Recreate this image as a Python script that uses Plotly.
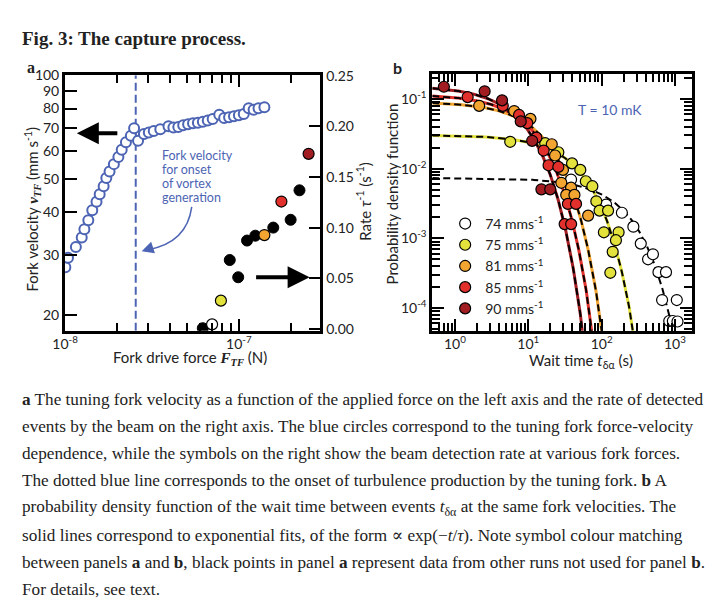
import numpy as np
import plotly.graph_objects as go

# ---------------- data: panel a ----------------
force_fork = [1.004e-8, 1.04e-8, 1.154e-8, 1.247e-8, 1.292e-8, 1.361e-8, 1.434e-8, 1.517e-8,
              1.582e-8, 1.667e-8, 1.727e-8, 1.803e-8, 1.909e-8, 2.027e-8, 2.118e-8, 2.240e-8,
              2.391e-8, 2.496e-8, 2.63e-8, 2.843e-8, 3.033e-8, 3.237e-8, 3.532e-8, 3.935e-8,
              4.2e-8, 4.481e-8, 4.783e-8, 5.104e-8, 5.446e-8, 5.811e-8, 6.204e-8, 6.622e-8,
              7.067e-8, 7.709e-8, 8.227e-8, 8.781e-8, 9.371e-8, 1.0e-7, 1.067e-7, 1.139e-7,
              1.215e-7, 1.297e-7, 1.402e-7]
vel_fork = [27.6, 29.4, 31.6, 33.7, 35.6, 37.8, 40.4, 42.8, 45.0, 47.5, 50.2, 52.4, 55.1, 57.8,
            60.7, 63.8, 66.7, 70.1, 64.5, 67.4, 68.1, 68.8, 69.6, 71.1, 70.4, 70.7, 71.5, 72.0,
            72.5, 72.7, 73.2, 73.9, 74.6, 76.8, 75.1, 75.5, 76.0, 76.5, 77.1, 80.2, 79.4, 80.2, 80.7]
force_onset = 2.55e-8
vel_axis_range = [18.0, 100.0]

force_rate_black = [6.2e-8, 8.862e-8, 9.91e-8, 1.114e-7, 1.243e-7, 1.577e-7, 1.985e-7, 2.232e-7]
rate_black = [0.0007, 0.068, 0.051, 0.0872, 0.092, 0.100, 0.1077, 0.1368]
force_rate_col = [7.012e-8, 7.881e-8, 1.402e-7, 1.756e-7, 2.518e-7]
rate_col = [0.0045, 0.0279, 0.0926, 0.1257, 0.1728]

# ---------------- data: panel b ----------------
series_names = ["74 mms<sup>-1</sup>", "75 mms<sup>-1</sup>", "81 mms<sup>-1</sup>",
                "85 mms<sup>-1</sup>", "90 mms<sup>-1</sup>"]
series_colors = ["#ffffff", "#e3e13c", "#f3a531", "#e2302c", "#a11d22"]

t74 = [38.3, 115, 189, 271, 342, 430, 501, 596, 755, 668, 1060, 836, 937, 1083]
p74 = [6.97e-3, 3.05e-3, 2.33e-3, 1.47e-3, 8.4e-4, 5.0e-4, 5.9e-4, 3.27e-4, 3.27e-4, 1.3e-4,
       1.3e-4, 6.5e-5, 6.5e-5, 6.4e-5]
t75 = [5.67, 17.0, 25.7, 39.5, 51.2, 60.9, 74.8, 84.7, 93.7, 122.5, 107.4, 170.5, 156.8, 141.6, 131.5]
p75 = [0.0243, 0.0232, 0.0172, 0.0119, 0.0096, 0.0066, 0.0056, 0.0034, 0.0025, 0.0025, 0.00122,
       0.00122, 0.00094, 0.00064, 0.00032]
t81 = [2.14, 6.42, 10.7, 20.9, 23.2, 29.7, 28.2, 38.3, 32.9, 42.6, 65.5]
p81 = [0.0798, 0.0671, 0.0519, 0.0224, 0.01545, 0.0096, 0.00627, 0.00533, 0.0042, 0.0042, 0.00212]
t85 = [1.49, 4.49, 7.48, 9.69, 12.9, 16.2, 18.9, 25.7, 34.7, 44.8, 31.3, 38.4]
p85 = [0.1066, 0.0798, 0.059, 0.0451, 0.0279, 0.0182, 0.0112, 0.0106, 0.00312, 0.00312, 0.0016, 0.0016]
t90 = [0.706, 2.54, 4.39, 7.89, 11.3, 15.1, 19.9]
p90 = [0.150, 0.129, 0.0956, 0.0477, 0.0251, 0.00505, 0.00505]

fit_amp = [7.36e-3, 0.0304, 0.0908, 0.116, 0.153]
fit_tau = [184.0, 41.7, 13.4, 9.5, 6.8]

series_t = [t74, t75, t81, t85, t90]
series_p = [p74, p75, p81, p85, p90]

xa_tickvals = [1e-8, 1e-7]
xa_ticktext = ["10<sup>-8</sup>", "10<sup>-7</sup>"]
ya_tickvals = [20, 30, 40, 50, 60, 70, 80, 90, 100]
ya_ticktext = ["20", "30", "40", "50", "60", "70", "80", "90", "100"]
yr_tickvals = [0, 0.05, 0.10, 0.15, 0.20, 0.25]
xb_tickvals = [1, 10, 100, 1000]
xb_ticktext = ["10<sup>0</sup>", "10<sup>1</sup>", "10<sup>2</sup>", "10<sup>3</sup>"]
yb_tickvals = [1e-4, 1e-3, 1e-2, 1e-1]
yb_ticktext = ["10<sup>-4</sup>", "10<sup>-3</sup>", "10<sup>-2</sup>", "10<sup>-1</sup>"]

BLUE = "#4c64b3"
FONT = "Lato, 'Open Sans', sans-serif"
SERIF = "'Liberation Serif', 'DejaVu Serif', serif"
W, H = 728, 606


def px(x):
    return x / W


def py(y):
    return 1 - y / H


fig = go.Figure()

# panel a: onset of vortex generation
fig.add_trace(go.Scatter(x=[force_onset, force_onset], y=vel_axis_range, mode="lines",
                         line=dict(color=BLUE, width=2, dash="8px,4px"),
                         xaxis="x", yaxis="y", showlegend=False, hoverinfo="skip"))
# panel a: fork velocity vs force
fig.add_trace(go.Scatter(x=force_fork, y=vel_fork, mode="markers",
                         marker=dict(size=10, color="white", line=dict(color=BLUE, width=2)),
                         xaxis="x", yaxis="y", showlegend=False))
# panel a: detection rates
fig.add_trace(go.Scatter(x=force_rate_black, y=rate_black, mode="markers",
                         marker=dict(size=11, color="black", line=dict(color="black", width=1)),
                         xaxis="x", yaxis="y2", showlegend=False))
fig.add_trace(go.Scatter(x=force_rate_col, y=rate_col, mode="markers",
                         marker=dict(size=11, color=series_colors, line=dict(color="black", width=1.2)),
                         xaxis="x", yaxis="y2", showlegend=False))

# panel b: exponential fits
t_grid = np.logspace(-0.31, 3.23, 400)
for amp, tau, col in zip(fit_amp, fit_tau, series_colors):
    p = amp * np.exp(-t_grid / tau)
    m = p > 1e-6
    fig.add_trace(go.Scatter(x=t_grid[m], y=p[m], mode="lines", line=dict(color=col, width=3),
                             xaxis="x2", yaxis="y3", showlegend=False, hoverinfo="skip"))
    fig.add_trace(go.Scatter(x=t_grid[m], y=p[m], mode="lines",
                             line=dict(color="black", width=2, dash="7px,4px"),
                             xaxis="x2", yaxis="y3", showlegend=False, hoverinfo="skip"))
# panel b: measured pdf
for name, t, p, col in zip(series_names, series_t, series_p, series_colors):
    fig.add_trace(go.Scatter(x=t, y=p, mode="markers", name=name,
                             marker=dict(size=11, color=col, line=dict(color="black", width=1.2)),
                             xaxis="x2", yaxis="y3"))

tickfont = dict(family=FONT, size=14, color="#222")
common = dict(showgrid=False, zeroline=False, showline=True, linecolor="black", linewidth=3,
              ticks="inside", tickcolor="black", tickwidth=1.5, tickfont=tickfont)
minor = dict(dtick="D1", ticks="inside", ticklen=8, tickcolor="black", tickwidth=1.5)

fig.update_layout(
    width=W, height=H, margin=dict(l=0, r=0, t=0, b=0),
    paper_bgcolor="white", plot_bgcolor="white",
    xaxis=dict(domain=[px(53), px(313)], type="log", range=[-8, -6.531], anchor="y",
               tickvals=xa_tickvals, ticktext=xa_ticktext, mirror="ticks", ticklen=12,
               ticklabelstandoff=-2, minor=minor, **common),
    yaxis=dict(domain=[py(330), py(68)], type="log", range=[np.log10(18.0), 2], anchor="x",
               tickvals=ya_tickvals, ticktext=ya_ticktext, mirror=True, ticklen=12, **common),
    yaxis2=dict(overlaying="y", side="right", anchor="x", range=[-0.0019, 0.2503],
                tickvals=yr_tickvals, tickformat=".2f", ticklen=11, **common),
    xaxis2=dict(domain=[px(427), px(691)], type="log", range=[-0.308, 3.228], anchor="y3",
                tickvals=xb_tickvals, ticktext=xb_ticktext, mirror="ticks", ticklen=12,
                ticklabelstandoff=-2, minor=minor, **common),
    yaxis3=dict(domain=[py(330), py(67)], type="log", range=[-4.328, -0.646], anchor="x2",
                tickvals=yb_tickvals, ticktext=yb_ticktext, mirror="ticks", ticklen=12,
                minor=minor, **common),
    legend=dict(x=px(440), y=py(204), xanchor="left", yanchor="top", bgcolor="rgba(0,0,0,0)",
                font=dict(family=FONT, size=14, color="#222")),
    showlegend=True,
)

ann = []


def text(x, y, s, size=15, color="#222", family=FONT, angle=0, xanchor="center"):
    ann.append(dict(x=px(x), y=py(y), xref="paper", yref="paper", text=s, showarrow=False,
                    font=dict(family=family, size=size, color=color), textangle=angle,
                    xanchor=xanchor, yanchor="middle"))


text(7, 30, "<b>Fig. 3: The capture process.</b>", size=19, family=SERIF, xanchor="left")
text(18, 60, "<b>a</b>", size=16, family=SERIF)
text(391, 60, "<b>b</b>", size=16, family=FONT)

vtf = "<span style=\"font-family:'Liberation Serif'\"><b><i>v<sub>TF</sub></i></b></span>"
ftf = "<span style=\"font-family:'Liberation Serif'\"><b><i>F<sub>TF</sub></i></b></span>"
text(20, 205, "Fork velocity " + vtf + " (mm s<sup>-1</sup>)", size=15, angle=-90)
text(180, 358, "Fork drive force " + ftf + " (N)", size=15)
text(357, 197, "Rate <i>τ</i><sup>-1</sup> (s<sup>-1</sup>)", size=15, angle=-90)
text(386, 190, "Probability density function", size=15, angle=-90)
text(578, 361, "Wait time <i>t</i><sub>δα</sub> (s)", size=15)

for i, line in enumerate(["Fork velocity", "for onset", "of vortex", "generation"]):
    text(150, 150 + 14.5 * i, line, size=12.5, color=BLUE, xanchor="left")
text(608, 103, "T = 10 mK", size=14, color=BLUE)

# arrows
ann.append(dict(x=px(65), y=py(127.3), ax=42, ay=0, xref="paper", yref="paper",
                text="", showarrow=True, arrowhead=2,
                arrowwidth=4, arrowsize=1.1, arrowcolor="black"))
ann.append(dict(x=px(302), y=py(275), ax=-55, ay=0, xref="paper", yref="paper",
                text="", showarrow=True, arrowhead=2,
                arrowwidth=4, arrowsize=1.1, arrowcolor="black"))
ann.append(dict(x=px(131), y=py(248.5), ax=9, ay=-3, xref="paper", yref="paper",
                text="", showarrow=True, arrowhead=2, arrowwidth=1.5, arrowsize=1.6,
                arrowcolor=BLUE))

shapes = [dict(type="path", xref="paper", yref="paper",
               path=f"M {px(182)},{py(203)} Q {px(177)},{py(240)} {px(137)},{py(247)}",
               line=dict(color=BLUE, width=1.5))]

caption = [
    "<b>a</b> The tuning fork velocity as a function of the applied force on the left axis and the rate of detected",
    "events by the beam on the right axis. The blue circles correspond to the tuning fork force-velocity",
    "dependence, while the symbols on the right show the beam detection rate at various fork forces.",
    "The dotted blue line corresponds to the onset of turbulence production by the tuning fork. <b>b</b> A",
    "probability density function of the wait time between events <i>t</i><sub>δα</sub> at the same fork velocities. The",
    "solid lines correspond to exponential fits, of the form ∝ exp(−<i>t</i>/<i>τ</i>). Note symbol colour matching",
    "between panels <b>a</b> and <b>b</b>, black points in panel <b>a</b> represent data from other runs not used for panel <b>b</b>.",
    "For details, see text.",
]
for i, line in enumerate(caption):
    text(7, 400 + 27.9 * i, line, size=17.2, family=SERIF, xanchor="left")

fig.update_layout(annotations=ann, shapes=shapes)
fig.write_html("out.html", config={"displayModeBar": False},
               post_script="document.body.style.margin='0';document.body.style.overflow='hidden';")
